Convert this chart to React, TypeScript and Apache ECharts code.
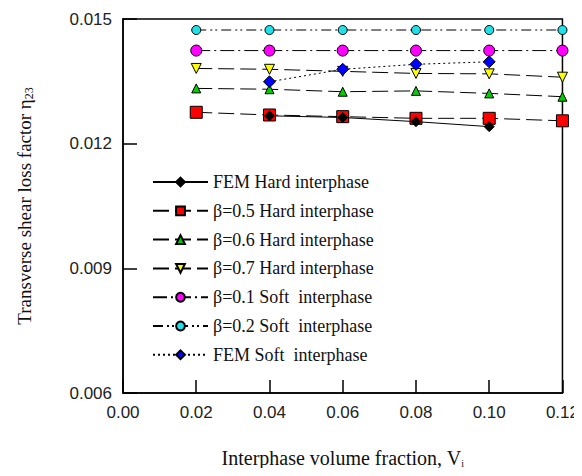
import React, { useEffect, useRef } from "react";
import * as echarts from "echarts";

const xTicks = [0.0, 0.02, 0.04, 0.06, 0.08, 0.1, 0.12];
const xAll = [0.02, 0.04, 0.06, 0.08, 0.1, 0.12];
const xFem = [0.04, 0.06, 0.08, 0.1];

const femHard = [0.01267, 0.01263, 0.01253, 0.01241];
const beta05Hard = [0.012755, 0.01269, 0.01265, 0.01261, 0.01261, 0.01255];
const beta06Hard = [0.01333, 0.01331, 0.01325, 0.01327, 0.01321, 0.01313];
const beta07Hard = [0.01381, 0.01379, 0.01374, 0.01369, 0.01368, 0.0136];
const beta01Soft = [0.01424, 0.01424, 0.01424, 0.01424, 0.01424, 0.01424];
const beta02Soft = [0.014735, 0.014735, 0.014735, 0.014735, 0.014735, 0.014735];
const femSoft = [0.01349, 0.01379, 0.01391, 0.01397];

const pair = (xs: number[], ys: number[]) => xs.map((x, i) => [x, ys[i]]);

export default function App() {
  const ref = useRef<HTMLDivElement>(null);
  useEffect(() => {
    const chart = echarts.init(ref.current!, null, { renderer: "svg" });
    const mk = (
      name: string,
      xs: number[],
      ys: number[],
      symbol: string,
      size: number,
      color: string,
      type: any,
      rotate = 0
    ) => ({
      name,
      type: "line",
      data: pair(xs, ys),
      symbol,
      symbolSize: size,
      symbolRotate: rotate,
      itemStyle: { color, borderColor: "#000", borderWidth: 1 },
      lineStyle: { color: "#000", width: 1, type },
      z: 3,
    });
    chart.setOption({
      animation: false,
      backgroundColor: "#fff",
      grid: {
        left: 123,
        right: 17,
        top: 19,
        bottom: 83,
        show: true,
        borderColor: "#000",
        borderWidth: 1.5,
      },
      legend: {
        orient: "vertical",
        left: 147,
        top: 167,
        itemWidth: 55,
        itemHeight: 11,
        itemGap: 8.8,
        textStyle: { fontFamily: "Liberation Serif", fontSize: 18, lineHeight: 20, color: "#111" },
        data: [
          "FEM Hard interphase",
          "β=0.5 Hard interphase",
          "β=0.6 Hard interphase",
          "β=0.7 Hard interphase",
          "β=0.1 Soft  interphase",
          "β=0.2 Soft  interphase",
          "FEM Soft  interphase",
        ],
      },
      xAxis: {
        type: "value",
        min: 0,
        max: 0.12,
        interval: 0.02,
        name: "Interphase volume fraction, V{s|i}",
        nameLocation: "middle",
        nameGap: 55,
        nameTextStyle: {
          fontFamily: "Liberation Serif",
          fontSize: 20,
          color: "#111",
          rich: { s: { fontSize: 10, fontFamily: "Liberation Serif", padding: [10, 0, 0, 0] } },
        },
        axisLine: { lineStyle: { color: "#000", width: 1.5 } },
        axisTick: { inside: true, length: 13, lineStyle: { color: "#000", width: 1.5 } },
        axisLabel: {
          fontFamily: "Liberation Sans",
          fontSize: 17,
          color: "#222",
          margin: 11,
          formatter: (v: number) => v.toFixed(2),
        },
        splitLine: { show: false },
      },
      yAxis: {
        type: "value",
        min: 0.006,
        max: 0.015,
        interval: 0.003,
        name: "Transverse shear loss factor η{s|23}",
        nameLocation: "middle",
        nameGap: 88,
        nameTextStyle: {
          fontFamily: "Liberation Serif",
          fontSize: 19,
          color: "#111",
          rich: { s: { fontSize: 12, fontFamily: "Liberation Serif", padding: [10, 0, 0, 0] } },
        },
        axisLine: { lineStyle: { color: "#000", width: 1.5 } },
        axisTick: { inside: true, length: 14, lineStyle: { color: "#000", width: 1.5 } },
        axisLabel: {
          fontFamily: "Liberation Sans",
          fontSize: 17,
          color: "#222",
          margin: 11,
          formatter: (v: number) => v.toFixed(3),
        },
        splitLine: { show: false },
      },
      series: [
        mk("β=0.2 Soft  interphase", xAll, beta02Soft, "circle", 9, "#22e0e8", [10, 4, 2, 3, 2, 4]),
        mk("β=0.1 Soft  interphase", xAll, beta01Soft, "circle", 11, "#ff00ff", [14, 4, 2, 4]),
        mk("β=0.7 Hard interphase", xAll, beta07Hard, "triangle", 10, "#ffff00", [16, 6], 180),
        mk("β=0.6 Hard interphase", xAll, beta06Hard, "triangle", 9, "#00cc00", [16, 6]),
        mk("β=0.5 Hard interphase", xAll, beta05Hard, "rect", 12, "#ff0000", [16, 6]),
        mk("FEM Hard interphase", xFem, femHard, "diamond", 10, "#000000", "solid"),
        mk("FEM Soft  interphase", xFem, femSoft, "diamond", 12, "#0000ff", [2, 3]),
      ],
    });
    return () => chart.dispose();
  }, []);
  return <div ref={ref} style={{ width: 582, height: 476, margin: -8 }} />;
}
